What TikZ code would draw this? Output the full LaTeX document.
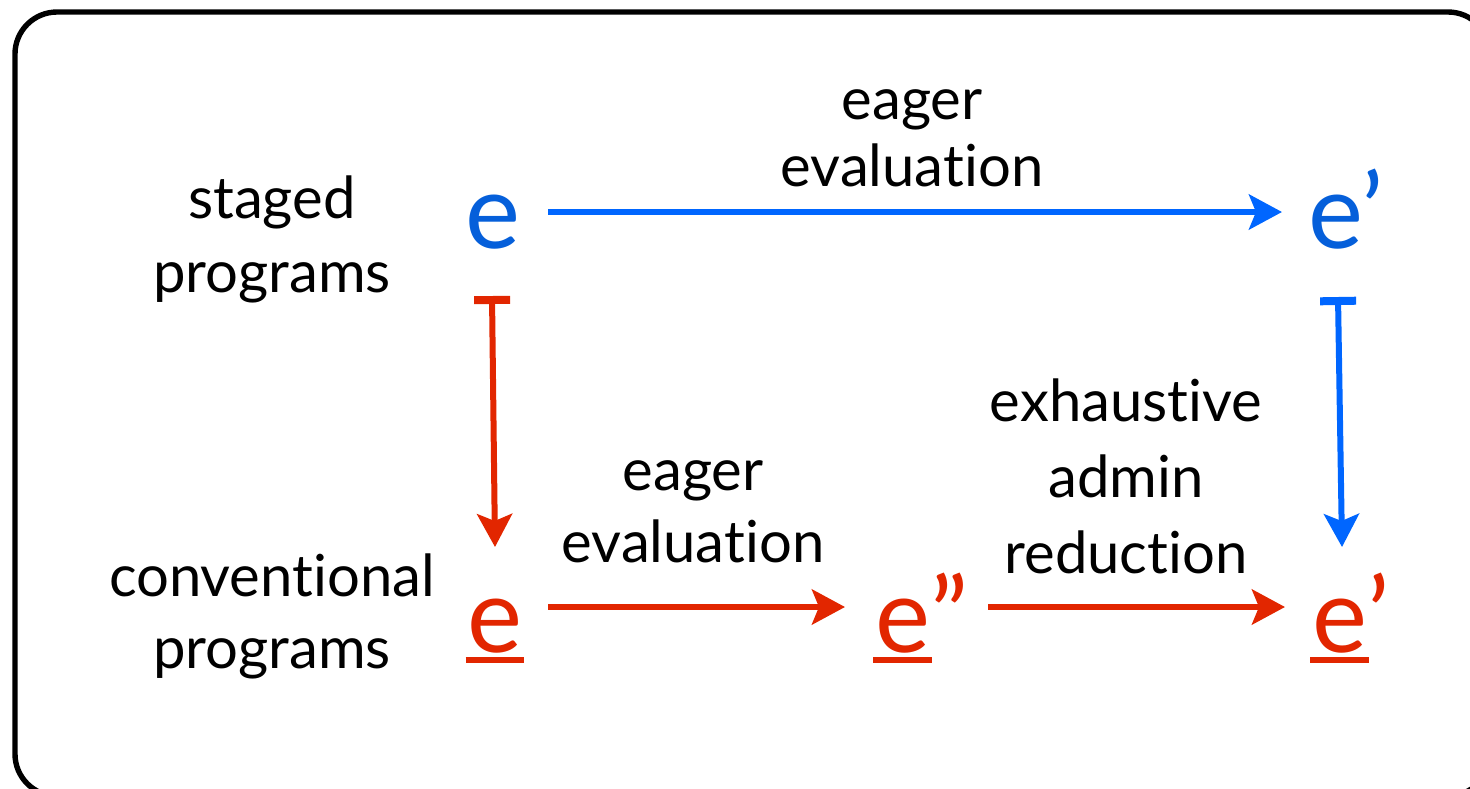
\documentclass[tikz,border=0pt]{standalone}
\usepackage{fontspec}
\setmainfont{Lato}[Ligatures=NoCommon]
\usetikzlibrary{arrows.meta,calc}
\definecolor{eblue}{RGB}{5,95,218}
\definecolor{ablue}{RGB}{0,102,255}
\definecolor{ered}{RGB}{226,38,0}
\newcommand\lblfont[1]{\fontsize{29pt}{#1}\selectfont}
\newcommand\bigefont{\fontsize{52pt}{60pt}\selectfont}
\newcommand\uline[1]{\setbox0\hbox{#1}\rlap{\hspace{-1pt}\rule[-5.5pt]{\dimexpr\wd0+2pt\relax}{3pt}}\box0}
\begin{document}
\begin{tikzpicture}[x=0.5pt,y=-0.5pt,
  lbl/.style={inner sep=0pt, align=center, anchor=base},
  sym/.style={inner sep=0pt, font=\bigefont},
  tipS/.style={-{Stealth[length=16.5pt,width=17.5pt,inset=3.5pt]}},
  barS/.style={{Bar[width=18pt,line width=4pt]}-{Stealth[length=16.5pt,width=17.5pt,inset=3.5pt]}},
  bluearr/.style={line width=3pt, draw=ablue, tipS},
  redarr/.style={line width=3pt, draw=ered, tipS},
  bluemap/.style={line width=3pt, draw=ablue, barS},
  redmap/.style={line width=3pt, draw=ered, barS}]
\useasboundingbox (0,0) rectangle (1470,788);
\draw[line width=2.7pt, rounded corners=21pt] (15,12) rectangle (1490,796);

\node[sym, text=eblue, anchor=base] (s1) at (493,248) {e};
\node[sym, text=eblue, anchor=base west] (s2) at (1308,248) {e’};
\node[sym, text=ered, anchor=base] (c1) at (495,652) {\uline{e}};
\node[sym, text=ered, anchor=base west] (c2) at (875,652) {\uline{e}”};
\node[sym, text=ered, anchor=base west] (c3) at (1312,652) {\uline{e}’};

\draw[bluearr] ($(s1.base)+(55,-36)$) -- ($(s2.base west)+(-26,-36)$);
\draw[redmap] ($(s1.base)+(-1,48)$) -- ($(c1.base)+(0,-105)$);
\draw[bluemap] ($(s2.base west)+(30,49)$) -- ($(c3.base west)+(30,-105)$);
\draw[redarr] ($(c1.base)+(53,-45)$) -- ($(c2.base west)+(-30,-45)$);
\draw[redarr] ($(c2.base west)+(113,-45)$) -- ($(c3.base west)+(-27,-45)$);

\node[lbl, font=\lblfont{37pt}] (lstaged) at (272,292) {staged\\programs};
\node[lbl, font=\lblfont{36pt}] (lconv) at (272,668) {conventional\\programs};
\node[lbl, font=\lblfont{33.5pt}] (ltop) at (912,186) {eager\\evaluation};
\node[lbl, font=\lblfont{36pt}] (lbot) at (693,562) {eager\\evaluation};
\node[lbl, font=\lblfont{38pt}] (lexh) at (1126,573) {exhaustive\\admin\\reduction};
\end{tikzpicture}
\end{document}
